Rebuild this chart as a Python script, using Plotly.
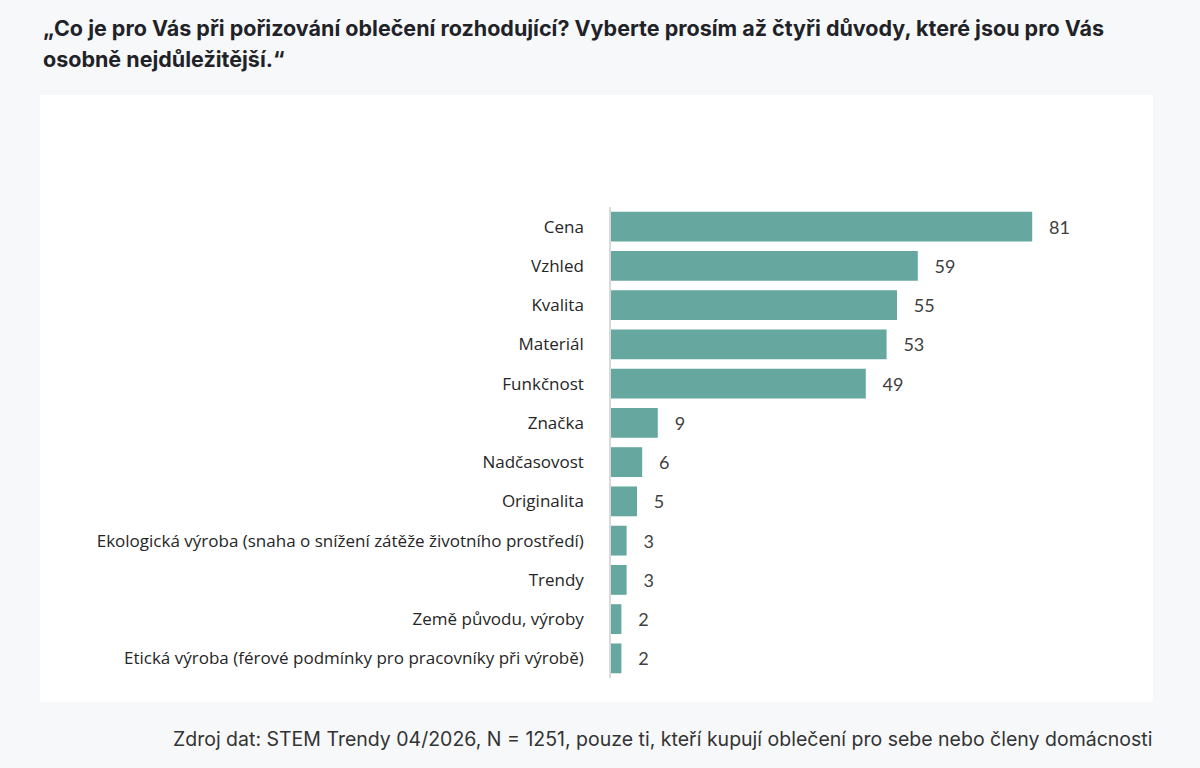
import plotly.graph_objects as go

reasons = [
    "Cena",
    "Vzhled",
    "Kvalita",
    "Materiál",
    "Funkčnost",
    "Značka",
    "Nadčasovost",
    "Originalita",
    "Ekologická výroba (snaha o snížení zátěže životního prostředí)",
    "Trendy",
    "Země původu, výroby",
    "Etická výroba (férové podmínky pro pracovníky při výrobě)",
]
shares = [81, 59, 55, 53, 49, 9, 6, 5, 3, 3, 2, 2]

title_lines = [
    "„Co je pro Vás při pořizování oblečení rozhodující? Vyberte prosím až čtyři důvody, které jsou pro Vás",
    "osobně nejdůležitější.“",
]
source_text = ("Zdroj dat: STEM Trendy 04/2026, N = 1251, pouze ti, kteří kupují oblečení pro sebe nebo členy "
               "domácnosti")

W, H = 1200, 768
left, right, top, bottom = 611, 1131, 207, 678
bar_colour = "#66a79f"
page_bg = "#f7f8fa"

pw = right - left
ph = bottom - top


def px_x(x):
    return (x - left) / pw


def px_y(y):
    return (bottom - y) / ph


fig = go.Figure()
fig.add_trace(go.Bar(
    x=shares,
    y=reasons,
    orientation="h",
    marker={"color": bar_colour, "line": {"width": 0}},
    text=shares,
    texttemplate="\u00a0\u00a0\u00a0%{text}",
    textposition="outside",
    textfont={"family": "Lato", "size": 18, "color": "#404040"},
    cliponaxis=False,
    hoverinfo="skip",
))

annotations = []
for line, y in zip(title_lines, [28, 59]):
    annotations.append({
        "text": "<b>" + line + "</b>", "xref": "paper", "yref": "paper",
        "x": px_x(41), "y": px_y(y), "xanchor": "left", "yanchor": "middle",
        "align": "left", "showarrow": False,
        "font": {"family": "Inter", "size": 21.5, "color": "#1f2328"},
    })
annotations.append({
    "text": source_text, "xref": "paper", "yref": "paper",
    "x": px_x(1154), "y": px_y(739), "xanchor": "right", "yanchor": "middle",
    "showarrow": False,
    "font": {"family": "Inter", "size": 19.5, "color": "#333333"},
})

fig.update_layout(
    width=W,
    height=H,
    margin={"l": left, "r": W - right, "t": top, "b": H - bottom, "pad": 0},
    paper_bgcolor=page_bg,
    plot_bgcolor="white",
    showlegend=False,
    bargap=0.24,
    xaxis={"range": [0, 100], "visible": False, "fixedrange": True},
    yaxis={
        "categoryorder": "array",
        "categoryarray": reasons,
        "range": [len(reasons) - 0.5, -0.5],
        "showgrid": False,
        "zeroline": False,
        "showline": True,
        "linecolor": "#d9d9d9",
        "linewidth": 1.5,
        "ticks": "",
        "ticklabelstandoff": 22,
        "tickfont": {"family": "Open Sans", "size": 17, "color": "#262626"},
        "fixedrange": True,
    },
    shapes=[{
        "type": "rect", "xref": "paper", "yref": "paper", "layer": "below",
        "x0": px_x(40), "x1": px_x(1153), "y0": px_y(702), "y1": px_y(95),
        "fillcolor": "white", "line": {"width": 0},
    }],
    annotations=annotations,
)

# drop the browser's default body margin so the figure sits at the page corner
fig.write_html(
    "out.html",
    config={"displayModeBar": False},
    post_script="document.body.style.margin='0';document.body.style.background='%s';" % page_bg,
)
